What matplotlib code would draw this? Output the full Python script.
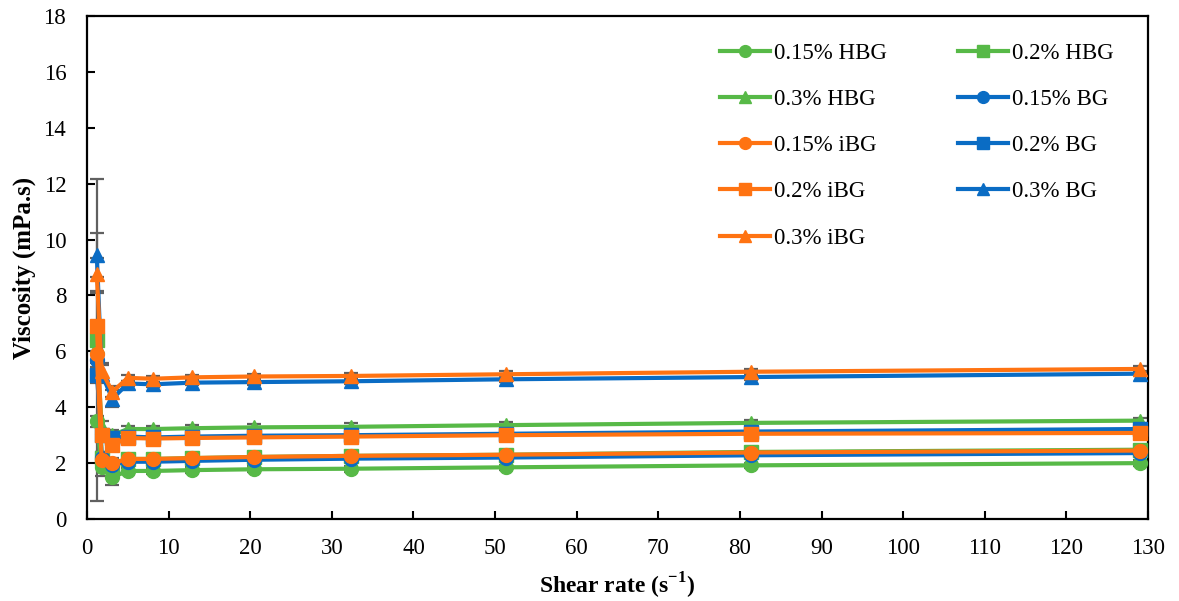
import matplotlib.pyplot as plt

plt.rcParams['font.family'] = ['Liberation Serif', 'DejaVu Serif']
plt.rcParams['mathtext.fontset'] = 'custom'
plt.rcParams['mathtext.rm'] = 'Liberation Serif'
plt.rcParams['mathtext.bf'] = 'Liberation Serif:bold'

# shear rate (1/s)
shear = [1.2, 1.8, 3.1, 5.0, 8.1, 12.9, 20.4, 32.4, 51.3, 81.3, 129]

# viscosity (mPa.s)
hbg_015 = [3.5, 1.85, 1.5, 1.72, 1.72, 1.75, 1.78, 1.8, 1.85, 1.92, 2.0]
hbg_02 = [6.4, 2.2, 1.9, 2.15, 2.15, 2.18, 2.22, 2.26, 2.3, 2.4, 2.48]
hbg_03 = [6.2, 3.3, 3.0, 3.22, 3.22, 3.25, 3.28, 3.3, 3.36, 3.44, 3.52]
bg_015 = [5.7, 2.2, 1.95, 2.05, 2.05, 2.08, 2.12, 2.16, 2.2, 2.28, 2.36]
bg_02 = [5.15, 3.0, 2.9, 2.95, 2.92, 2.95, 2.98, 3.0, 3.05, 3.13, 3.22]
bg_03 = [9.45, 5.2, 4.3, 4.85, 4.82, 4.88, 4.9, 4.93, 5.0, 5.08, 5.2]
ibg_015 = [5.9, 2.1, 2.0, 2.15, 2.15, 2.18, 2.22, 2.26, 2.3, 2.38, 2.45]
ibg_02 = [6.9, 3.0, 2.65, 2.9, 2.88, 2.9, 2.92, 2.95, 3.0, 3.05, 3.08]
ibg_03 = [8.75, 5.3, 4.55, 5.05, 5.02, 5.07, 5.1, 5.12, 5.18, 5.27, 5.37]

# standard deviations
err_hbg_015 = [0.2, 0.3, 0.3, 0.1, 0.1, 0.1, 0.1, 0.1, 0.1, 0.1, 0.1]
err_hbg_02 = [5.75, 0.2, 0.2, 0.1, 0.1, 0.1, 0.1, 0.1, 0.1, 0.1, 0.1]
err_hbg_03 = [0.5, 0.2, 0.2, 0.12, 0.12, 0.12, 0.12, 0.12, 0.1, 0.1, 0.1]
err_bg_015 = [0.3, 0.2, 0.2, 0.1, 0.1, 0.1, 0.1, 0.1, 0.1, 0.1, 0.1]
err_bg_02 = [0.3, 0.2, 0.15, 0.1, 0.1, 0.1, 0.1, 0.1, 0.1, 0.1, 0.1]
err_bg_03 = [0.8, 0.3, 0.3, 0.1, 0.1, 0.1, 0.1, 0.1, 0.1, 0.1, 0.1]
err_ibg_015 = [0.3, 0.2, 0.2, 0.1, 0.1, 0.1, 0.1, 0.1, 0.1, 0.1, 0.1]
err_ibg_02 = [1.2, 0.2, 0.2, 0.1, 0.1, 0.1, 0.1, 0.1, 0.1, 0.1, 0.1]
err_ibg_03 = [0.6, 0.3, 0.2, 0.1, 0.1, 0.1, 0.1, 0.1, 0.1, 0.1, 0.1]

green = '#57B947'
blue = '#0A6CC4'
orange = '#FF7312'

series = [
    ('0.15% HBG', hbg_015, err_hbg_015, green, 'o'),
    ('0.2% HBG', hbg_02, err_hbg_02, green, 's'),
    ('0.3% HBG', hbg_03, err_hbg_03, green, '^'),
    ('0.15% BG', bg_015, err_bg_015, blue, 'o'),
    ('0.2% BG', bg_02, err_bg_02, blue, 's'),
    ('0.3% BG', bg_03, err_bg_03, blue, '^'),
    ('0.15% iBG', ibg_015, err_ibg_015, orange, 'o'),
    ('0.2% iBG', ibg_02, err_ibg_02, orange, 's'),
    ('0.3% iBG', ibg_03, err_ibg_03, orange, '^'),
]

fig = plt.figure(figsize=(11.79, 6.01), dpi=100)
ax = fig.add_axes([0.0738, 0.1364, 0.8999, 0.837])

handles = {}
for i, (name, y, err, c, m) in enumerate(series):
    ax.errorbar(shear, y, yerr=err, fmt='none', ecolor='#606060',
                elinewidth=1.6, capsize=5, capthick=1.6, zorder=2 + i * 0.1)
    line, = ax.plot(shear, y, color=c, marker=m, markersize=10, lw=3,
                    label=name, zorder=3 + i * 0.1)
    handles[name] = line

order = ['0.15% HBG', '0.3% HBG', '0.15% iBG', '0.2% iBG', '0.3% iBG',
         '0.2% HBG', '0.15% BG', '0.2% BG', '0.3% BG']
ax.legend([handles[k] for k in order], order, ncol=2, frameon=False,
          fontsize=16.5, loc='upper left', bbox_to_anchor=(0.577, 0.988),
          handlelength=2.2, handletextpad=0.17, columnspacing=3.1,
          labelspacing=1.1, markerscale=0.85)

ax.set_xlim(0, 130)
ax.set_ylim(0, 18)
ax.set_xticks(range(0, 131, 10))
ax.set_yticks(range(0, 19, 2))
ax.tick_params(direction='in', length=6, width=1.5, labelsize=16.5)
ax.tick_params(axis='y', pad=15)
ax.tick_params(axis='x', pad=14)
for s in ax.spines.values():
    s.set_linewidth(1.6)

ax.set_xlabel(r'Shear rate (s$^{\mathbf{-1}}$)', fontsize=17,
              fontweight='bold', labelpad=8)
ax.set_ylabel('Viscosity (mPa.s)', fontsize=18, fontweight='bold', labelpad=5)

fig.savefig('out.png', dpi=100)
